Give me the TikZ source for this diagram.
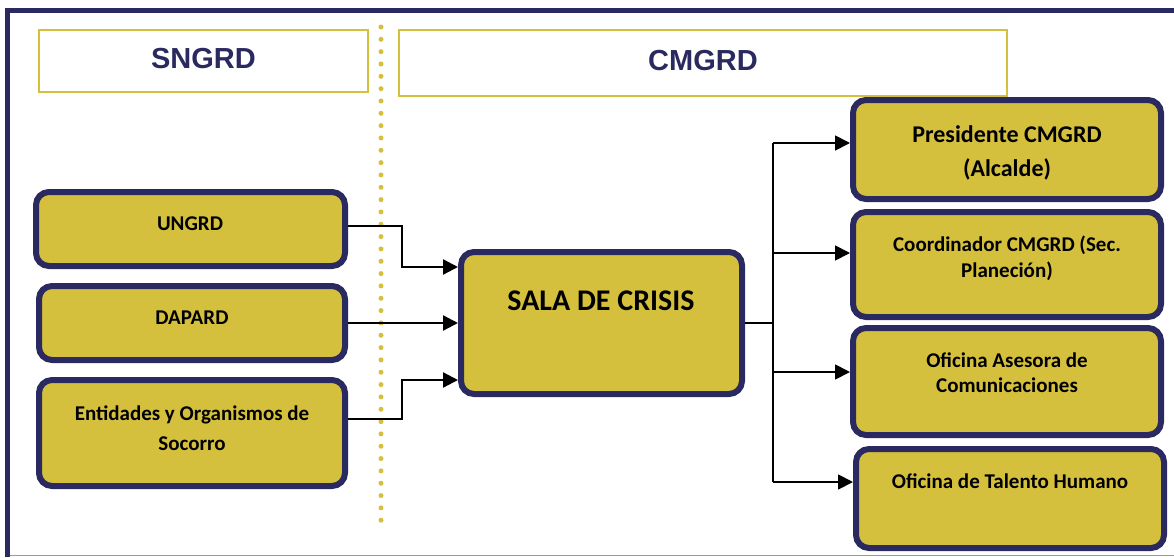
\documentclass[tikz,border=0pt]{standalone}
\usepackage{fontspec}
\setmainfont{Carlito}
\newfontfamily\hdrfont{Liberation Sans}
\usetikzlibrary{arrows.meta}
\definecolor{navy}{RGB}{42,42,96}
\definecolor{gold}{RGB}{213,192,61}
\definecolor{framegrey}{RGB}{150,148,188}
\begin{document}
\begin{tikzpicture}[x=1pt,y=-1pt,
  box/.style={draw=navy, line width=6pt, fill=gold, rounded corners=13pt, inner sep=0pt},
  hdr/.style={draw=gold, line width=2pt, inner sep=0pt, text depth=5pt,
    font=\hdrfont\bfseries\fontsize{29}{34}\selectfont, text=navy},
  lbl/.style={font=\bfseries\fontsize{21}{30}\selectfont, align=center, anchor=base, inner sep=0pt},
  conn/.style={line width=2.2pt, -{Triangle[length=15pt,width=15pt]}},
  rconn/.style={line width=1.8pt, -{Triangle[length=15pt,width=15pt]}},
]
\useasboundingbox (0,0) rectangle (1174,557);
% frame
\draw[framegrey, line width=1.5pt] (5,555.5) -- (1174,555.5);
\draw[navy, line width=5.5pt] (7.5,557) -- (7.5,10.5) -- (1174,10.5);
% dotted divider
\draw[gold, line width=5pt, line cap=round, dash pattern=on 0pt off 12.33pt] (381,27) -- (381,531);
% headers
\node[hdr, minimum width=329pt, minimum height=62pt] (sngrd) at (203.5,61) {SNGRD};
\node[hdr, minimum width=608pt, minimum height=66pt] (cmgrd) at (703,63) {CMGRD};
% left boxes
\node[box, minimum width=309pt, minimum height=74pt] (ungrd) at (190.5,229) {};
\node[box, minimum width=306pt, minimum height=74pt] (dapard) at (192,323) {};
\node[box, minimum width=306pt, minimum height=106pt] (ent) at (192,433) {};
% centre
\node[box, minimum width=281pt, minimum height=142pt] (sala) at (601.5,323) {};
% right boxes
\node[box, minimum width=308pt, minimum height=99pt] (pres) at (1007,149.5) {};
\node[box, minimum width=308pt, minimum height=105pt] (coord) at (1007,264.5) {};
\node[box, minimum width=308pt, minimum height=107pt] (ases) at (1007,381.5) {};
\node[box, minimum width=308pt, minimum height=99pt] (tal) at (1010,498.5) {};
% labels (anchor = baseline of the last line)
\node[lbl] (ungrd-t) at (190,230) {UNGRD};
\node[lbl] (dapard-t) at (192,324) {DAPARD};
\node[lbl] (ent-t) at (192,450) {Entidades y Organismos de\\Socorro};
\node[lbl, font=\bfseries\fontsize{30}{36}\selectfont] (sala-t) at (601,310) {SALA DE CRISIS};
\node[lbl, font=\bfseries\fontsize{24}{34}\selectfont] (pres-t) at (1007,176) {Presidente CMGRD\\(Alcalde)};
\node[lbl, font=\bfseries\fontsize{21}{26}\selectfont] (coord-t) at (1007,277) {Coordinador CMGRD (Sec.\\Planeción)};
\node[lbl, font=\bfseries\fontsize{21}{25}\selectfont] (ases-t) at (1007,392) {Oficina Asesora de\\Comunicaciones};
\node[lbl] (tal-t) at (1010,488) {Oficina de Talento Humano};
% left connectors
\draw[conn] ([yshift=3pt]ungrd.east) -- ++(54,0) |- ([yshift=56pt]sala.west);
\draw[conn] (dapard.east) -- (dapard.east -| sala.west);
\draw[conn] ([yshift=14pt]ent.east) -- ++(54,0) |- ([yshift=-57pt]sala.west);
% right connectors
\coordinate (bus) at (773,323);
\coordinate (pin) at ([yshift=6.5pt]pres.west);
\coordinate (cin) at ([yshift=11.5pt]coord.west);
\coordinate (ain) at ([yshift=9.5pt]ases.west);
\coordinate (tin) at ([yshift=16.5pt]tal.west);
\draw[line width=1.8pt] (sala.east) -- (bus);
\draw[line width=1.8pt] (bus |- pin) -- (bus |- tin);
\draw[rconn] (bus |- pin) -- (pin);
\draw[rconn] (bus |- cin) -- (cin);
\draw[rconn] (bus |- ain) -- (ain);
\draw[rconn] (bus |- tin) -- (tin);
\end{tikzpicture}
\end{document}
